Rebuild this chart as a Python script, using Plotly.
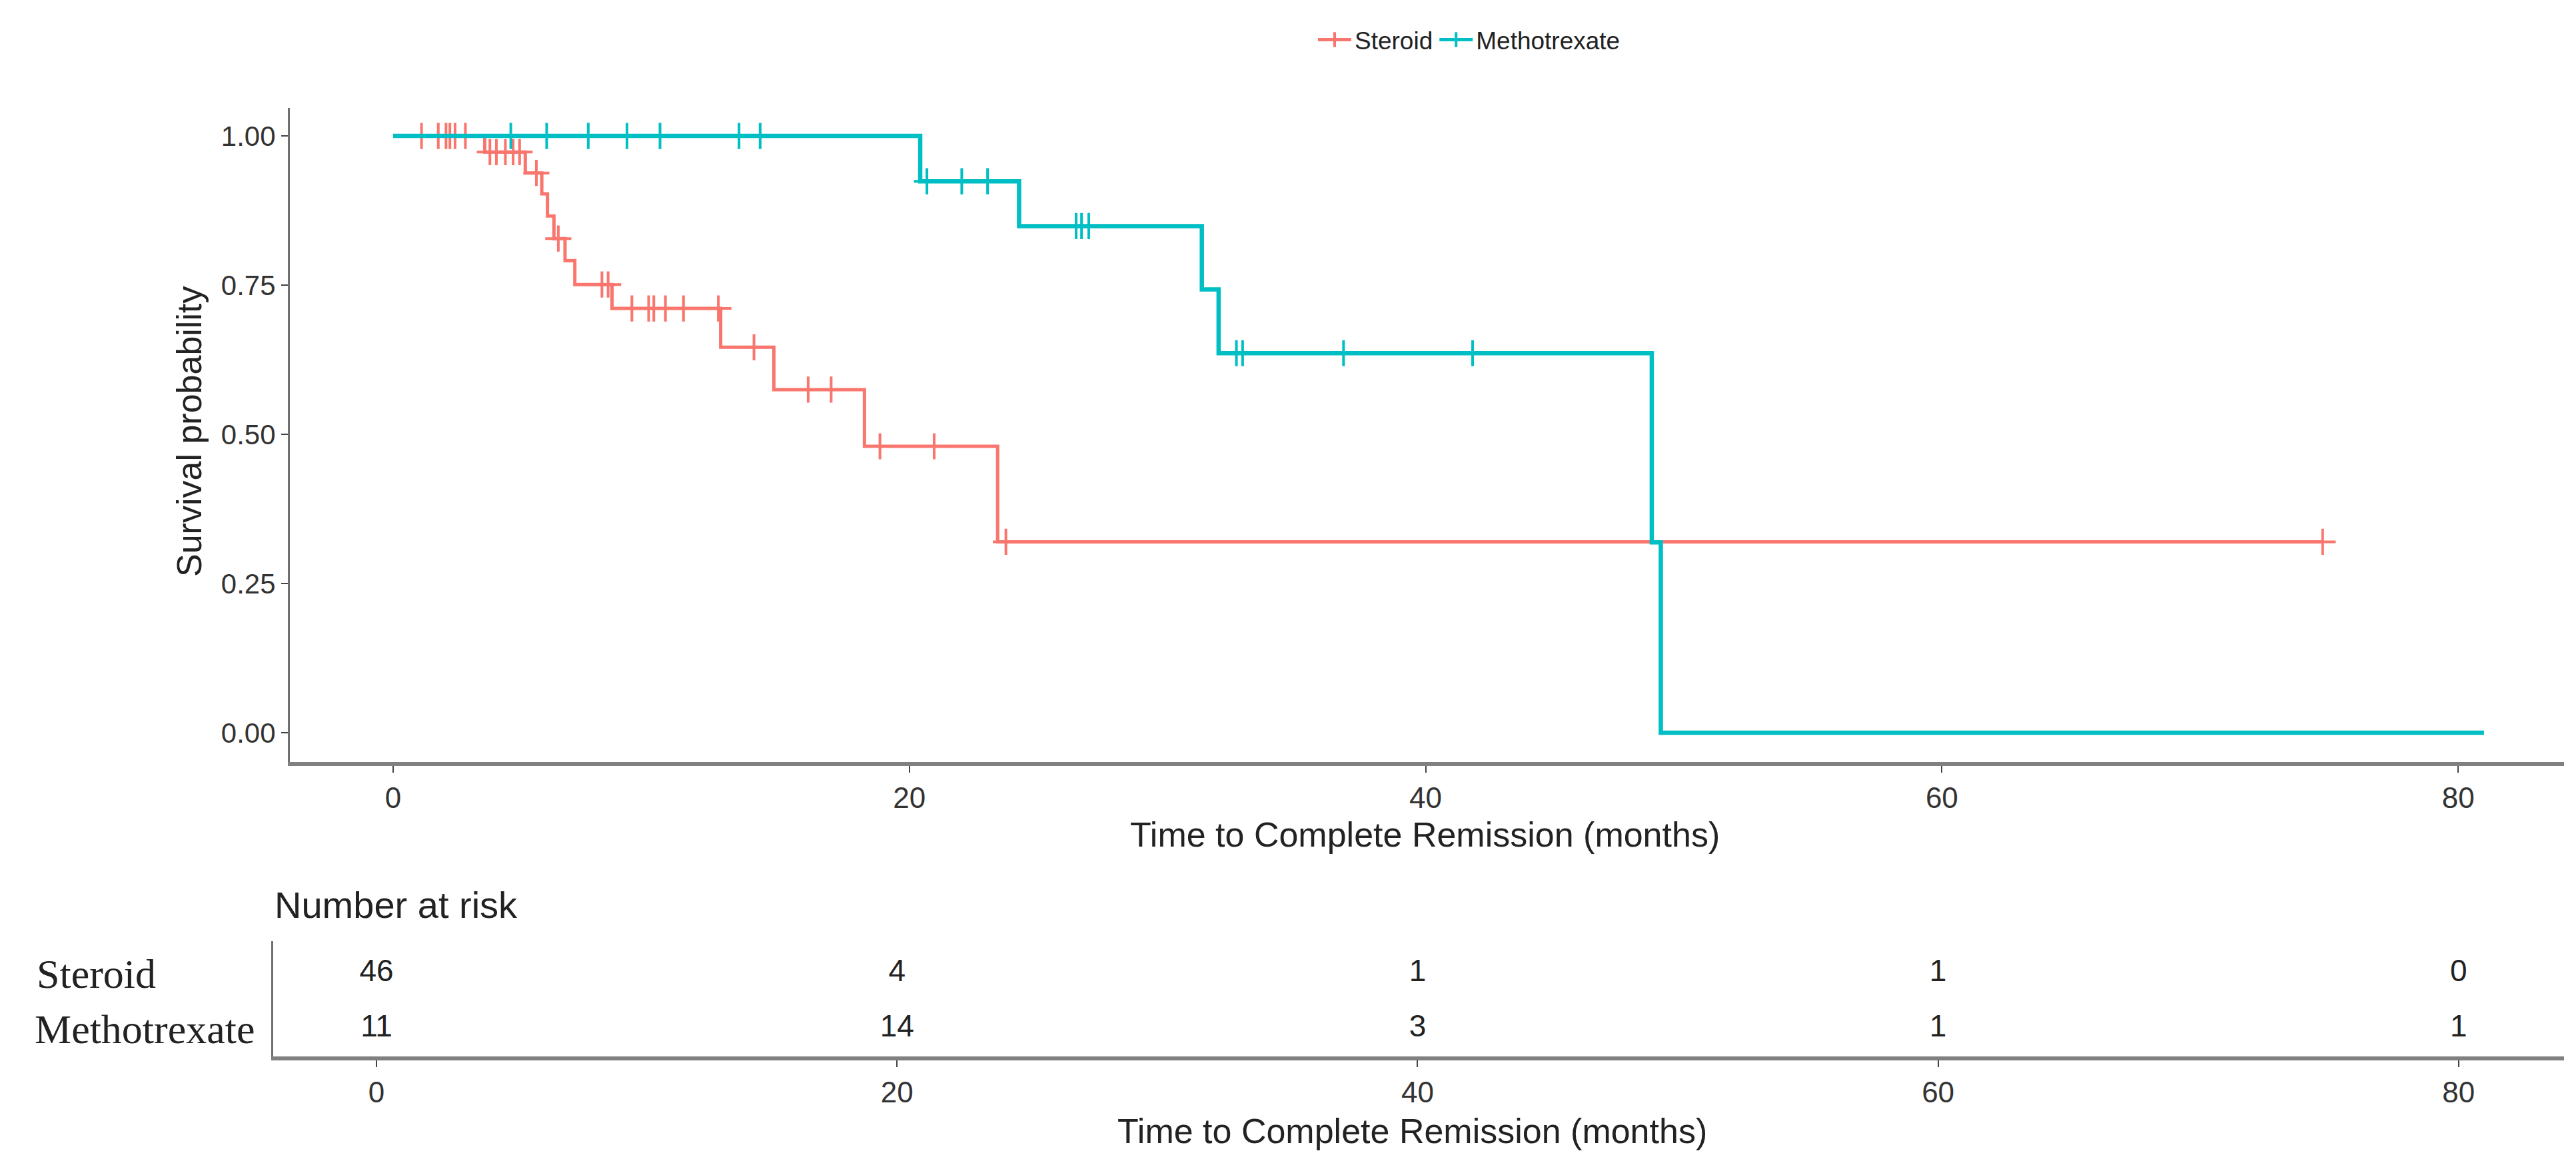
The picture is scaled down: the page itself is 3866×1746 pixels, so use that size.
import plotly.graph_objects as go

# ---------------- data ----------------
groups = ["Steroid", "Methotrexate"]
colors = {"Steroid": "#F8766D", "Methotrexate": "#00BFC4"}

# Kaplan-Meier steps: time of each drop and survival after it
steroid_event_times = [3.55, 5.12, 5.76, 5.98, 6.23, 6.66, 7.04, 8.48, 12.69, 14.75, 18.26, 23.42]
steroid_event_surv = [0.973, 0.938, 0.903, 0.866, 0.828, 0.791, 0.751, 0.711, 0.646, 0.575, 0.480, 0.320]
steroid_end_time = 74.75
steroid_censor_times = [1.1, 1.75, 2.05, 2.2, 2.4, 2.8,
                        3.75, 4.0, 4.35, 4.65, 4.9,
                        5.55, 6.4, 8.09, 8.33,
                        9.25, 9.9, 10.1, 10.55, 11.25, 12.6,
                        13.98, 16.08, 16.97, 18.86, 20.96, 23.74, 74.75]

mtx_event_times = [20.42, 24.25, 31.33, 31.98, 48.76, 49.11]
mtx_event_surv = [0.924, 0.849, 0.743, 0.636, 0.319, 0.0]
mtx_end_time = 81.0
mtx_censor_times = [4.56, 5.95, 7.56, 9.06, 10.34, 13.4, 14.22,
                    20.68, 22.03, 23.03,
                    26.46, 26.67, 26.95,
                    32.67, 32.91, 36.82, 41.82]

# Number at risk table
risk_times = [0, 20, 40, 60, 80]
risk_steroid = [46, 4, 1, 1, 0]
risk_mtx = [11, 14, 3, 1, 1]

x_ticks = [0, 20, 40, 60, 80]
y_ticks = [0.0, 0.25, 0.5, 0.75, 1.0]

# ---------------- figure ----------------
W, H = 3866, 1746
SANS = "Liberation Sans, Arial, sans-serif"
SERIF = "Liberation Serif, Times New Roman, serif"


def px_x(p):
    return p / W


def px_y(p):
    return 1 - p / H


def surv_at(t, ev_t, ev_s):
    s = 1.0
    for et, es in zip(ev_t, ev_s):
        if et <= t:
            s = es
    return s


series = {
    "Steroid": (steroid_event_times, steroid_event_surv, steroid_end_time, steroid_censor_times, 5),
    "Methotrexate": (mtx_event_times, mtx_event_surv, mtx_end_time, mtx_censor_times, 6.5),
}

fig = go.Figure()
for g in groups:
    ev_t, ev_s, end_t, cens_t, lw = series[g]
    xs = [0] + ev_t + [end_t]
    ys = [1.0] + ev_s + [ev_s[-1]]
    fig.add_trace(go.Scatter(
        x=xs, y=ys, mode="lines", line=dict(color=colors[g], width=lw, shape="hv"),
        showlegend=False, xaxis="x", yaxis="y", hoverinfo="skip"))
    fig.add_trace(go.Scatter(
        x=cens_t, y=[surv_at(t, ev_t, ev_s) for t in cens_t], mode="markers",
        marker=dict(symbol="cross-thin", size=28, color=colors[g],
                    line=dict(color=colors[g], width=4)),
        showlegend=False, xaxis="x", yaxis="y", hoverinfo="skip"))

# legend-only entries
for g in groups:
    fig.add_trace(go.Scatter(
        x=[None], y=[None], mode="lines+markers", name=g,
        line=dict(color=colors[g], width=5),
        marker=dict(symbol="cross-thin", size=30, color=colors[g],
                    line=dict(color=colors[g], width=4)),
        xaxis="x", yaxis="y"))

# risk table numbers
for row_y, vals in [(2, risk_steroid), (1, risk_mtx)]:
    fig.add_trace(go.Scatter(
        x=risk_times, y=[row_y] * len(risk_times), mode="text",
        text=[str(v) for v in vals], textposition="middle center",
        textfont=dict(family=SANS, size=46, color="#222222"),
        showlegend=False, xaxis="x2", yaxis="y2", hoverinfo="skip"))

axis_common = dict(showgrid=False, zeroline=False, showline=True,
                   ticks="outside", ticklen=10, tickwidth=2, tickcolor="#444444")

fig.update_layout(
    width=W, height=H,
    margin=dict(l=0, r=0, t=0, b=0),
    paper_bgcolor="white", plot_bgcolor="white",
    showlegend=True,
    legend=dict(orientation="h", x=px_x(2197), xanchor="center", y=px_y(52), yanchor="middle",
                font=dict(family=SANS, size=37, color="#222222"),
                itemwidth=50, bgcolor="rgba(0,0,0,0)"),
    xaxis=dict(domain=[px_x(427), px_x(3840)], range=[-4.0, 84.1], anchor="y",
               tickvals=x_ticks, ticktext=[str(v) for v in x_ticks],
               linecolor="#808080", linewidth=6,
               tickfont=dict(family=SANS, size=44, color="#333333"),
               **axis_common),
    yaxis=dict(domain=[px_y(1136), px_y(154)], range=[-0.049, 1.047], anchor="x",
               tickvals=y_ticks, ticktext=["%.2f" % v for v in y_ticks],
               linecolor="#707070", linewidth=3,
               tickfont=dict(family=SANS, size=42, color="#333333"),
               **axis_common),
    xaxis2=dict(domain=[px_x(402), px_x(3840)], range=[-3.97, 84.05], anchor="y2",
                tickvals=x_ticks, ticktext=[str(v) for v in x_ticks],
                linecolor="#808080", linewidth=6,
                tickfont=dict(family=SANS, size=44, color="#333333"),
                **axis_common),
    yaxis2=dict(domain=[px_y(1578), px_y(1405)], range=[0.506, 2.59], anchor="x2",
                showgrid=False, zeroline=False, showline=True, linecolor="#707070", linewidth=3,
                showticklabels=False, ticks=""),
    annotations=[
        dict(text="Time to Complete Remission (months)", xref="paper", yref="paper",
             x=px_x(2130), y=px_y(1245), xanchor="center", yanchor="middle", showarrow=False,
             font=dict(family=SANS, size=52, color="#222222")),
        dict(text="Survival probability", xref="paper", yref="paper",
             x=px_x(276), y=px_y(640), xanchor="center", yanchor="middle", showarrow=False,
             textangle=-90, font=dict(family=SANS, size=52, color="#222222")),
        dict(text="Number at risk", xref="paper", yref="paper",
             x=px_x(402), y=px_y(1350), xanchor="left", yanchor="middle", showarrow=False,
             font=dict(family=SANS, size=56, color="#222222")),
        dict(text="Time to Complete Remission (months)", xref="paper", yref="paper",
             x=px_x(2111), y=px_y(1690), xanchor="center", yanchor="middle", showarrow=False,
             font=dict(family=SANS, size=52, color="#222222")),
        dict(text="Steroid", xref="paper", yref="y2", x=px_x(45), y=2,
             xanchor="left", yanchor="middle", showarrow=False,
             font=dict(family=SERIF, size=62, color="#222222")),
        dict(text="Methotrexate", xref="paper", yref="y2", x=px_x(42), y=1,
             xanchor="left", yanchor="middle", showarrow=False,
             font=dict(family=SERIF, size=62, color="#222222")),
    ],
)

fig.write_html("out.html")
